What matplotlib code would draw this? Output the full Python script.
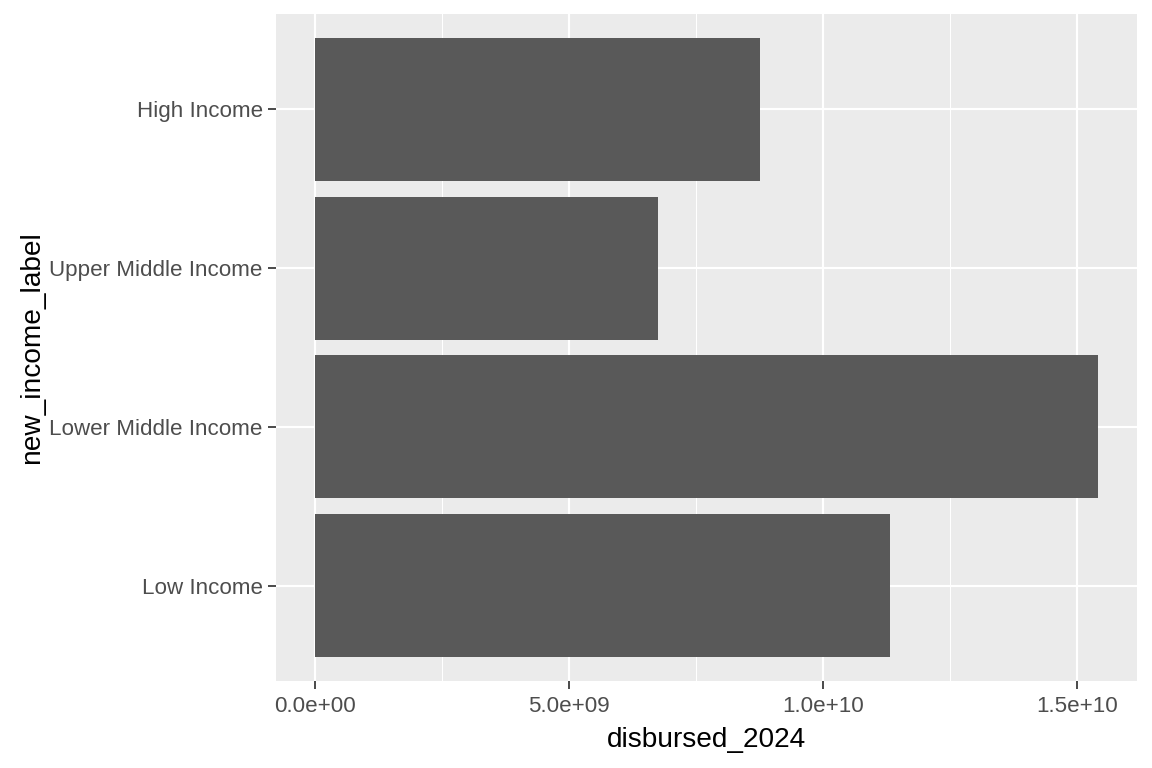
import matplotlib.pyplot as plt
from matplotlib.ticker import FixedLocator, FuncFormatter

plt.rcParams['font.family'] = ['Liberation Sans', 'DejaVu Sans']

# data
categories = ["Low Income", "Lower Middle Income", "Upper Middle Income", "High Income"]
disbursed_2024 = [1.132e10, 1.541e10, 6.75e9, 8.76e9]

fig = plt.figure(figsize=(12, 8), dpi=96)
ax = fig.add_axes([276 / 1152, 1 - 681 / 768, 861 / 1152, 667 / 768])

ypos = list(range(1, len(categories) + 1))
ax.barh(ypos, disbursed_2024, height=0.9, color="#595959", zorder=3)

# ggplot-ish limits: 5% multiplicative on x, 0.6 additive on discrete y
xmax = max(disbursed_2024)
ax.set_xlim(-0.05 * xmax, xmax * 1.05)
ax.set_ylim(0.4, len(categories) + 0.6)

ax.set_facecolor("#EBEBEB")
for s in ax.spines.values():
    s.set_visible(False)

ax.xaxis.set_major_locator(FixedLocator([0, 5e9, 1e10, 1.5e10]))
ax.xaxis.set_minor_locator(FixedLocator([2.5e9, 7.5e9, 1.25e10]))
ax.xaxis.set_major_formatter(FuncFormatter(lambda v, p: "%.1e" % v))
ax.set_yticks(ypos)
ax.set_yticklabels(categories)

ax.grid(which="major", color="white", linewidth=1.6, zorder=1)
ax.grid(which="minor", axis="x", color="white", linewidth=0.8, zorder=1)

ax.tick_params(axis="both", which="major", length=6, width=1.3, color="#333333",
               labelcolor="#4D4D4D", labelsize=16.8, pad=4)
ax.tick_params(axis="x", which="major", pad=5)
ax.tick_params(axis="x", which="minor", length=0)

ax.set_xlabel("disbursed_2024", fontsize=21, color="black", labelpad=8)
ax.set_ylabel("new_income_label", fontsize=21, color="black", labelpad=3)

fig.savefig("out.png", dpi=96)
